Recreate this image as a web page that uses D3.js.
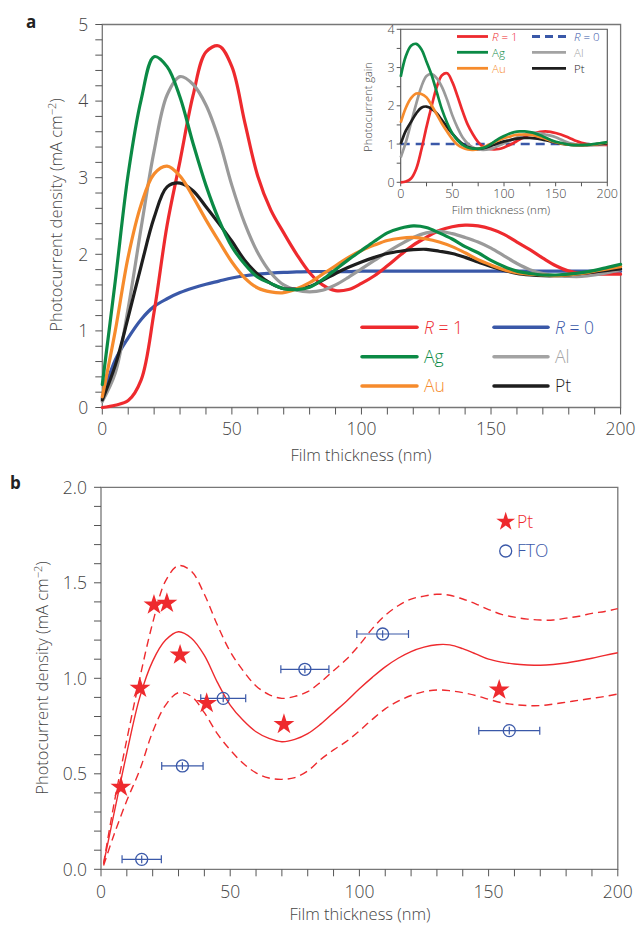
<!DOCTYPE html>
<html><head><meta charset="utf-8">
<script src="https://cdn.jsdelivr.net/npm/d3@7"></script>
<style>html,body{margin:0;padding:0;background:#fff}svg{display:block;font-family:"Open Sans",sans-serif;font-weight:300}</style>
</head><body>
<svg id="c" width="639" height="925"></svg>
<script>
// ---------- DATA ----------
const thickA = [0,5,10,15,20,25,30,35,40,45,50,55,60,65,70,75,80,85,90,95,100,105,110,115,120,125,130,135,140,145,150,155,160,165,170,175,180,185,190,195,200];
const densR1 = [0.00,0.03,0.09,0.36,1.25,2.38,3.22,4.07,4.64,4.72,4.45,3.72,3.02,2.58,2.28,2.00,1.76,1.60,1.525,1.54,1.62,1.72,1.85,1.99,2.12,2.22,2.31,2.36,2.38,2.37,2.33,2.26,2.16,2.06,1.95,1.85,1.78,1.75,1.74,1.74,1.74];
const densR0 = [0.12,0.62,0.91,1.15,1.32,1.42,1.50,1.56,1.61,1.65,1.69,1.72,1.74,1.755,1.765,1.77,1.775,1.775,1.775,1.775,1.78,1.78,1.78,1.78,1.78,1.78,1.78,1.78,1.78,1.78,1.78,1.78,1.78,1.78,1.78,1.78,1.78,1.78,1.78,1.78,1.78];
const densAg = [0.30,1.65,3.05,4.02,4.58,4.45,4.05,3.45,2.90,2.45,2.10,1.87,1.70,1.62,1.55,1.54,1.57,1.67,1.80,1.93,2.05,2.17,2.28,2.34,2.37,2.35,2.28,2.20,2.10,2.02,1.92,1.84,1.78,1.75,1.73,1.73,1.74,1.76,1.79,1.83,1.87];
const densAl = [0.08,0.45,1.30,2.35,3.35,4.08,4.32,4.22,3.95,3.50,2.90,2.40,2.02,1.76,1.60,1.53,1.51,1.53,1.60,1.70,1.81,1.92,2.03,2.13,2.22,2.28,2.30,2.27,2.22,2.16,2.08,1.98,1.88,1.80,1.75,1.72,1.71,1.71,1.73,1.76,1.80];
const densAu = [0.14,1.00,1.97,2.65,3.05,3.15,3.02,2.75,2.45,2.17,1.90,1.69,1.56,1.51,1.50,1.55,1.63,1.74,1.85,1.96,2.05,2.12,2.18,2.21,2.22,2.20,2.16,2.10,2.02,1.93,1.86,1.80,1.76,1.74,1.73,1.72,1.73,1.75,1.78,1.81,1.84];
const densPt = [0.10,0.55,1.18,1.85,2.48,2.88,2.93,2.83,2.62,2.40,2.17,1.92,1.74,1.62,1.55,1.55,1.58,1.66,1.75,1.83,1.90,1.96,2.01,2.04,2.06,2.065,2.04,2.01,1.96,1.90,1.84,1.79,1.75,1.73,1.72,1.72,1.73,1.75,1.77,1.79,1.81];

const gainR1 = [0,0.02,0.10,0.35,0.85,1.45,2.00,2.50,2.80,2.85,2.62,2.25,1.85,1.50,1.25,1.05,0.93,0.88,0.86,0.87,0.91,0.97,1.04,1.12,1.19,1.25,1.29,1.32,1.33,1.32,1.29,1.25,1.20,1.14,1.08,1.03,1.00,0.985,0.98,0.98,0.98];
const gainR0X = [0,200];
const gainR0 = [1,1];
const gainAg = [2.76,3.30,3.57,3.62,3.48,3.15,2.80,2.35,1.90,1.55,1.28,1.10,0.98,0.91,0.88,0.88,0.90,0.96,1.05,1.14,1.21,1.27,1.31,1.33,1.33,1.31,1.28,1.23,1.17,1.11,1.06,1.03,1.00,0.98,0.97,0.97,0.98,0.99,1.01,1.03,1.05];
const gainAl = [0.65,1.05,1.55,2.05,2.50,2.78,2.83,2.72,2.49,2.15,1.75,1.43,1.17,1.01,0.91,0.86,0.85,0.86,0.90,0.96,1.02,1.08,1.14,1.20,1.25,1.285,1.295,1.28,1.25,1.22,1.18,1.12,1.06,1.01,0.985,0.97,0.965,0.965,0.975,0.99,1.01];
const gainAu = [1.56,1.95,2.20,2.32,2.31,2.22,2.01,1.77,1.53,1.32,1.13,0.98,0.90,0.86,0.85,0.875,0.92,0.98,1.04,1.10,1.155,1.19,1.23,1.245,1.25,1.24,1.22,1.18,1.14,1.09,1.05,1.015,0.99,0.98,0.975,0.97,0.975,0.985,1.00,1.02,1.035];
const gainPt = [1.00,1.35,1.58,1.80,1.95,1.98,1.92,1.80,1.62,1.44,1.27,1.12,1.00,0.92,0.88,0.87,0.89,0.93,0.98,1.03,1.07,1.10,1.13,1.15,1.16,1.16,1.15,1.13,1.10,1.07,1.04,1.01,0.99,0.975,0.97,0.97,0.975,0.985,0.995,1.005,1.02];

const thickB = [1,5,10,15,20,25,30,35,40,45,50,55,60,65,70,75,80,85,90,95,100,105,110,115,120,125,130,135,140,145,150,155,160,165,170,175,180,185,190,195,200];
const fitMid = [0.03,0.29,0.61,0.90,1.09,1.20,1.244,1.21,1.12,0.98,0.86,0.78,0.72,0.685,0.668,0.68,0.71,0.76,0.82,0.88,0.945,1.005,1.06,1.105,1.14,1.163,1.176,1.175,1.155,1.128,1.10,1.085,1.075,1.07,1.068,1.072,1.08,1.092,1.105,1.12,1.134];
const fitHi = [0.03,0.34,0.68,1.00,1.29,1.51,1.59,1.56,1.44,1.28,1.14,1.04,0.96,0.915,0.895,0.905,0.93,0.98,1.04,1.10,1.175,1.26,1.33,1.38,1.415,1.43,1.44,1.435,1.415,1.39,1.36,1.335,1.32,1.31,1.305,1.305,1.315,1.325,1.34,1.35,1.365];
const fitLo = [0.02,0.18,0.36,0.52,0.72,0.86,0.925,0.905,0.82,0.71,0.625,0.555,0.505,0.478,0.471,0.48,0.515,0.575,0.625,0.67,0.725,0.785,0.84,0.88,0.91,0.93,0.939,0.935,0.925,0.91,0.89,0.872,0.862,0.857,0.857,0.865,0.875,0.885,0.895,0.905,0.918];

const ptX = [7.7,15.1,20.5,25.5,30.6,40.9,70.8,154.1];
const ptY = [0.43,0.948,1.384,1.393,1.122,0.869,0.759,0.939];
const ftoX = [15.75,31.5,47.3,78.9,109.0,158.0];
const ftoY = [0.052,0.541,0.895,1.047,1.232,0.726];
const ftoXErr = [7.6,8.0,8.7,9.3,10.0,11.8];
const ftoYErr = [0.02,0.02,0.02,0.02,0.02,0.02];

const xTicksA = [0,50,100,150,200];
const yTicksA = [0,1,2,3,4,5];
const yTicksI = [0,1,2,3,4];
const yTicksB = [0,0.5,1.0,1.5,2.0];

// ---------- STYLE ----------
const C = {red:"#ee2a2e", blue:"#3a58a8", green:"#0b8a45", gray:"#9a9a9a", orange:"#f68b2c", black:"#1e1e1e", text:"#444", axis:"#555"};
const svg = d3.select("#c");

function frame(g, x, y, opts) {
  const [x0,x1] = x.range(), [y0,y1] = y.range();
  g.append("path").attr("d",`M${x0},${y0}H${x1}V${y1}H${x0}Z`).attr("fill","none").attr("stroke",opts.frameColor||"#777").attr("stroke-width",opts.frameW||1.3);
  opts.xMinor.forEach(v=>{ g.append("line").attr("x1",x(v)).attr("x2",x(v)).attr("y1",y0).attr("y2",y0+opts.tl).attr("stroke",C.axis).attr("stroke-width",1); });
  opts.yMinor.forEach(v=>{ g.append("line").attr("y1",y(v)).attr("y2",y(v)).attr("x1",x0).attr("x2",x0-opts.tl).attr("stroke",C.axis).attr("stroke-width",1); });
  opts.xMajor.forEach(v=>{ g.append("text").attr("x",x(v)).attr("y",y0+opts.xlo).attr("text-anchor","middle").attr("font-size",opts.fs).attr("fill",C.text).text(v); });
  opts.yMajor.forEach(v=>{ g.append("text").attr("x",x0-opts.ylo).attr("y",y(v)+opts.fs*0.36).attr("text-anchor","end").attr("font-size",opts.fs).attr("fill",C.text).text(opts.yfmt?opts.yfmt(v):v); });
}
function range(a,b,s){const r=[];for(let v=a;v<=b+1e-9;v+=s)r.push(+v.toFixed(4));return r;}

// ---------- PANEL A ----------
const xA = d3.scaleLinear().domain([0,200]).range([102.3,620.6]);
const yA = d3.scaleLinear().domain([0,5]).range([407.5,24.5]);
const gA = svg.append("g");
frame(gA, xA, yA, {xMinor:range(0,200,10), yMinor:range(0,5,0.2), xMajor:xTicksA, yMajor:yTicksA, tl:7, xlo:27, ylo:14, fs:17.5});
const lineA = (arr)=>d3.line().x((d,i)=>xA(thickA[i])).y(d=>yA(d)).curve(d3.curveCatmullRom.alpha(0.5))(arr);
[[densR0,C.blue],[densR1,C.red],[densAl,C.gray],[densPt,C.black],[densAu,C.orange],[densAg,C.green]].forEach(([a,c])=>{
  gA.append("path").attr("d",lineA(a)).attr("fill","none").attr("stroke",c).attr("stroke-width",3.2).attr("stroke-linecap","round");
});
gA.append("text").attr("x",361).attr("y",461).attr("text-anchor","middle").attr("font-size",16.5).attr("fill",C.text).text("Film thickness (nm)");
const ytA = gA.append("text").attr("transform","translate(62,215) rotate(-90)").attr("text-anchor","middle").attr("font-size",16.5).attr("fill",C.text);
ytA.append("tspan").text("Photocurrent density (mA cm");
ytA.append("tspan").attr("dy",-6).attr("font-size",11).text("−2");
ytA.append("tspan").attr("dy",6).text(")");
svg.append("text").attr("x",26).attr("y",28).attr("font-size",17).attr("font-weight","bold").attr("fill","#222").text("a");

// main legend
const legA = [
  {lab:"R = 1", c:C.red, col:0, row:0, it:true},
  {lab:"R = 0", c:C.blue, col:1, row:0, it:true},
  {lab:"Ag", c:C.green, col:0, row:1},
  {lab:"Al", c:"#a3a3a3", col:1, row:1},
  {lab:"Au", c:C.orange, col:0, row:2},
  {lab:"Pt", c:C.black, col:1, row:2}
];
const legAx = [[362,417,424],[494,548,555]];
const legAy = [327.3,356.7,386];
legA.forEach(d=>{
  const [l0,l1,tx] = legAx[d.col], yy = legAy[d.row];
  gA.append("line").attr("x1",l0).attr("x2",l1).attr("y1",yy).attr("y2",yy).attr("stroke",d.c).attr("stroke-width",3.5).attr("stroke-linecap","round");
  const t = gA.append("text").attr("x",tx).attr("y",yy+6.2).attr("font-size",17.5).attr("fill",d.c);
  if (d.it) { t.append("tspan").attr("font-style","italic").text("R"); t.append("tspan").text(d.lab.slice(1)); }
  else t.text(d.lab);
});

// ---------- INSET ----------
const xI = d3.scaleLinear().domain([0,200]).range([400.7,607.3]);
const yI = d3.scaleLinear().domain([0,4]).range([182.3,29.3]);
const gI = svg.append("g");
gI.append("rect").attr("x",400.7).attr("y",29.3).attr("width",206.6).attr("height",153).attr("fill","#fff");
frame(gI, xI, yI, {xMinor:range(0,200,25), yMinor:range(0,4,0.5), xMajor:xTicksA, yMajor:yTicksI, tl:4, xlo:15.5, ylo:6, fs:12.5, frameW:1.1, frameColor:"#555"});
const lineI = (arr, xs)=>d3.line().x((d,i)=>xI(xs[i])).y(d=>yI(d)).curve(d3.curveCatmullRom.alpha(0.5))(arr);
gI.append("path").attr("d",lineI(gainR0,gainR0X)).attr("fill","none").attr("stroke",C.blue).attr("stroke-width",2.6).attr("stroke-dasharray","9,6");
[[gainR1,C.red],[gainAl,C.gray],[gainPt,C.black],[gainAu,C.orange],[gainAg,C.green]].forEach(([a,c])=>{
  gI.append("path").attr("d",lineI(a,thickA)).attr("fill","none").attr("stroke",c).attr("stroke-width",2.7);
});
gI.append("text").attr("x",501).attr("y",214).attr("text-anchor","middle").attr("font-size",11.5).attr("fill",C.text).text("Film thickness (nm)");
gI.append("text").attr("transform","translate(372,107) rotate(-90)").attr("text-anchor","middle").attr("font-size",11).attr("fill",C.text).text("Photocurrent gain");
const legIx = [[457,488,492],[532,566,574]];
const legIy = [36.5,52.3,68.3];
legA.forEach(d=>{
  const [l0,l1,tx] = legIx[d.col], yy = legIy[d.row];
  gI.append("line").attr("x1",l0).attr("x2",l1).attr("y1",yy).attr("y2",yy).attr("stroke",d.c).attr("stroke-width",2.8).attr("stroke-dasharray", d.lab==="R = 0" ? "8,5" : null);
  const t = gI.append("text").attr("x",tx).attr("y",yy+4.3).attr("font-size",11.5).attr("fill",d.c);
  if (d.it) { t.append("tspan").attr("font-style","italic").text("R"); t.append("tspan").text(d.lab.slice(1)); }
  else t.text(d.lab);
});

// ---------- PANEL B ----------
const xB = d3.scaleLinear().domain([0,200]).range([101,617.8]);
const yB = d3.scaleLinear().domain([0,2]).range([869.3,487.3]);
const gB = svg.append("g");
frame(gB, xB, yB, {xMinor:range(0,200,10), yMinor:range(0,2,0.1), xMajor:xTicksA, yMajor:yTicksB, tl:7, xlo:29, ylo:14, fs:17.5, yfmt:d3.format(".1f")});
const lineB = (arr)=>d3.line().x((d,i)=>xB(thickB[i])).y(d=>yB(d)).curve(d3.curveCatmullRom.alpha(0.5))(arr);
gB.append("path").attr("d",lineB(fitMid)).attr("fill","none").attr("stroke",C.red).attr("stroke-width",1.4);
[fitHi,fitLo].forEach(a=>gB.append("path").attr("d",lineB(a)).attr("fill","none").attr("stroke",C.red).attr("stroke-width",1.4).attr("stroke-dasharray","8,5"));
ftoX.forEach((xv,i)=>{
  const cx = xB(xv), cy = yB(ftoY[i]);
  const xl = xB(xv-ftoXErr[i]), xr = xB(xv+ftoXErr[i]);
  gB.append("line").attr("x1",xl).attr("x2",xr).attr("y1",cy).attr("y2",cy).attr("stroke",C.blue).attr("stroke-width",1.2);
  [xl,xr].forEach(xx=>gB.append("line").attr("x1",xx).attr("x2",xx).attr("y1",cy-4).attr("y2",cy+4).attr("stroke",C.blue).attr("stroke-width",1.2));
  gB.append("line").attr("x1",cx).attr("x2",cx).attr("y1",yB(ftoY[i]+ftoYErr[i])).attr("y2",yB(ftoY[i]-ftoYErr[i])).attr("stroke",C.blue).attr("stroke-width",1.2);
  gB.append("circle").attr("cx",cx).attr("cy",cy).attr("r",6).attr("fill","none").attr("stroke",C.blue).attr("stroke-width",1.3);
});
const star = d3.symbol().type(d3.symbolStar).size(135);
ptX.forEach((xv,i)=>{
  gB.append("path").attr("d",star()).attr("transform",`translate(${xB(xv)},${yB(ptY[i])})`).attr("fill",C.red);
});
gB.append("text").attr("x",360).attr("y",920).attr("text-anchor","middle").attr("font-size",16.5).attr("fill",C.text).text("Film thickness (nm)");
const ytB = gB.append("text").attr("transform","translate(48,678) rotate(-90)").attr("text-anchor","middle").attr("font-size",16.5).attr("fill",C.text);
ytB.append("tspan").text("Photocurrent density (mA cm");
ytB.append("tspan").attr("dy",-6).attr("font-size",11).text("−2");
ytB.append("tspan").attr("dy",6).text(")");
svg.append("text").attr("x",10).attr("y",489).attr("font-size",17).attr("font-weight","bold").attr("fill","#222").text("b");
gB.append("path").attr("d",d3.symbol().type(d3.symbolStar).size(110)()).attr("transform","translate(505.7,521.7)").attr("fill",C.red);
gB.append("text").attr("x",517).attr("y",527.6).attr("font-size",17.5).attr("fill",C.red).text("Pt");
gB.append("circle").attr("cx",505.7).attr("cy",551).attr("r",6).attr("fill","none").attr("stroke",C.blue).attr("stroke-width",1.3);
gB.append("text").attr("x",517).attr("y",557).attr("font-size",17.5).attr("fill",C.blue).text("FTO");
</script>
</body></html>
